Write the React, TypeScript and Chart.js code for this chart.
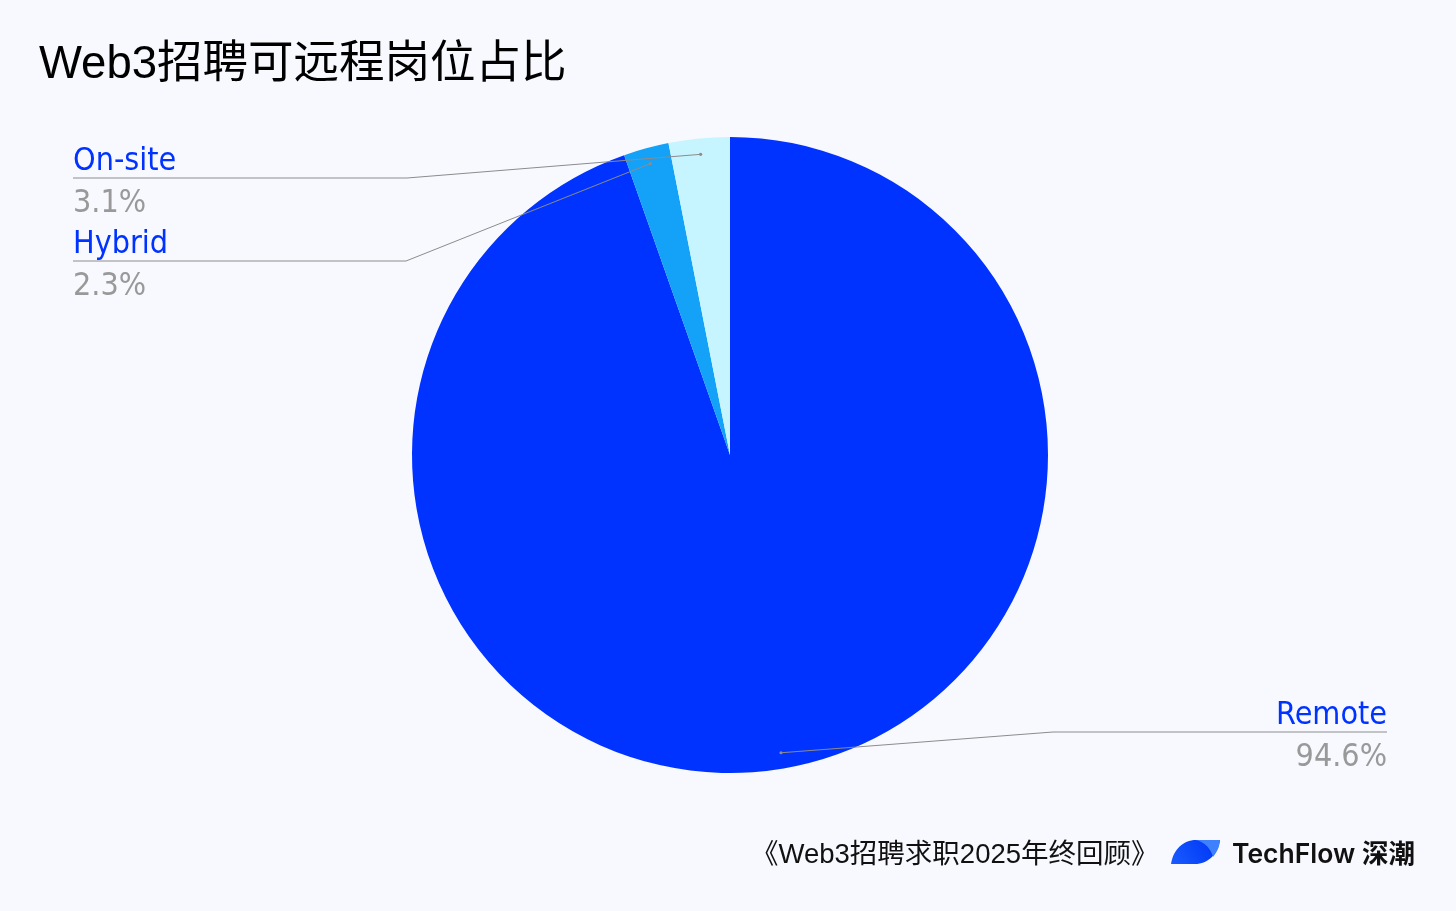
import React, { useEffect, useRef } from "react";
import { Chart, registerables } from "chart.js";

Chart.register(...registerables);

const categories = ["Remote", "Hybrid", "On-site"];
const shares = [94.6, 2.3, 3.1];
const valueLabels = ["94.6%", "2.3%", "3.1%"];
const sliceColors = ["#0033FF", "#13A2F7", "#C6F4FF"];

const titleText = "Web3招聘可远程岗位占比";
const footerText = "《Web3招聘求职2025年终回顾》";
const brandText = "TechFlow 深潮";

// label layout (positions of the call-out text, not data)
const calloutLayout = [
  { side: "right", lineY: 732, elbowX: 1053, endX: 1387 },
  { side: "left", lineY: 261, elbowX: 406, endX: 73 },
  { side: "left", lineY: 178, elbowX: 407, endX: 73 },
];

const W = 1456;
const H = 911;
const BG = "#F7F9FE";
const LABEL_FONT = '32px "DejaVu Sans Condensed", "DejaVu Sans", sans-serif';

const decorPlugin = {
  id: "decor",
  beforeDraw(chart: any) {
    const ctx = chart.ctx;
    ctx.save();
    ctx.fillStyle = BG;
    ctx.fillRect(0, 0, chart.width, chart.height);
    ctx.restore();
  },
  afterDatasetsDraw(chart: any) {
    const ctx = chart.ctx;
    const meta = chart.getDatasetMeta(0);
    ctx.save();
    meta.data.forEach((arc: any, i: number) => {
      const p = arc.getProps(["x", "y", "startAngle", "endAngle", "outerRadius"], true);
      const mid = (p.startAngle + p.endAngle) / 2;
      const r = p.outerRadius * 0.95;
      const ax = p.x + Math.cos(mid) * r;
      const ay = p.y + Math.sin(mid) * r;
      const lay = calloutLayout[i];
      ctx.strokeStyle = "#8C8C8C";
      ctx.lineWidth = 1;
      ctx.beginPath();
      ctx.moveTo(ax, ay);
      ctx.lineTo(lay.elbowX, lay.lineY);
      ctx.lineTo(lay.endX, lay.lineY);
      ctx.stroke();
      ctx.fillStyle = "#8C8C8C";
      ctx.beginPath();
      ctx.arc(ax, ay, 1.6, 0, Math.PI * 2);
      ctx.fill();

      ctx.font = LABEL_FONT;
      ctx.textBaseline = "alphabetic";
      ctx.textAlign = lay.side === "right" ? "right" : "left";
      ctx.fillStyle = "#0033FF";
      ctx.fillText(categories[i], lay.endX, lay.lineY - 8);
      ctx.fillStyle = "#999999";
      ctx.fillText(valueLabels[i], lay.endX, lay.lineY + 34);
    });

    // title
    ctx.textAlign = "left";
    ctx.fillStyle = "#000000";
    ctx.font = '45.5px "Liberation Sans", "Noto Sans CJK SC", sans-serif';
    ctx.fillText(titleText, 39, 78);

    // footer
    ctx.fillStyle = "#111111";
    ctx.font = '27.5px "Liberation Sans", "Noto Sans CJK SC", sans-serif';
    ctx.fillText(footerText, 751, 863);

    // logo leaf
    const lx = 1171;
    const ly = 840;
    const grad = ctx.createLinearGradient(lx, ly + 24, lx + 40, ly);
    grad.addColorStop(0, "#1A5CFF");
    grad.addColorStop(1, "#0038F5");
    ctx.fillStyle = grad;
    ctx.beginPath();
    ctx.moveTo(lx, ly + 24);
    ctx.bezierCurveTo(lx + 2, ly + 10, lx + 12, ly, lx + 25, ly);
    ctx.lineTo(lx + 49, ly);
    ctx.bezierCurveTo(lx + 47, ly + 14, lx + 37, ly + 24, lx + 24, ly + 24);
    ctx.closePath();
    ctx.fill();
    ctx.fillStyle = "#3F80FF";
    ctx.beginPath();
    ctx.moveTo(lx + 25, ly);
    ctx.lineTo(lx + 49, ly);
    ctx.bezierCurveTo(lx + 48.5, ly + 7, lx + 46, ly + 12, lx + 42, ly + 17);
    ctx.bezierCurveTo(lx + 40, ly + 9, lx + 34, ly + 2, lx + 25, ly);
    ctx.closePath();
    ctx.fill();

    ctx.fillStyle = "#111111";
    ctx.font = '600 26.5px Inter, "Noto Sans CJK SC", sans-serif';
    ctx.fillText(brandText, 1232, 863);
    ctx.restore();
  },
};

export default function App() {
  const ref = useRef<HTMLCanvasElement | null>(null);
  useEffect(() => {
    document.body.style.margin = "0";
    document.body.style.background = BG;
    const canvas = ref.current;
    if (!canvas) return;
    const chart = new Chart(canvas, {
      type: "pie",
      data: {
        labels: categories,
        datasets: [
          {
            data: shares,
            backgroundColor: sliceColors,
            borderWidth: 0,
          },
        ],
      },
      options: {
        responsive: false,
        animation: false,
        devicePixelRatio: 1,
        layout: { padding: { top: 137, bottom: 138, left: 412, right: 408 } },
        plugins: {
          legend: { display: false },
          tooltip: { enabled: false },
          title: { display: false },
        },
      },
      plugins: [decorPlugin],
    });
    return () => chart.destroy();
  }, []);
  return (
    <div style={{ position: "absolute", left: 0, top: 0, width: W, height: H, background: BG }}>
      <canvas ref={ref} width={W} height={H} style={{ display: "block" }} />
    </div>
  );
}
